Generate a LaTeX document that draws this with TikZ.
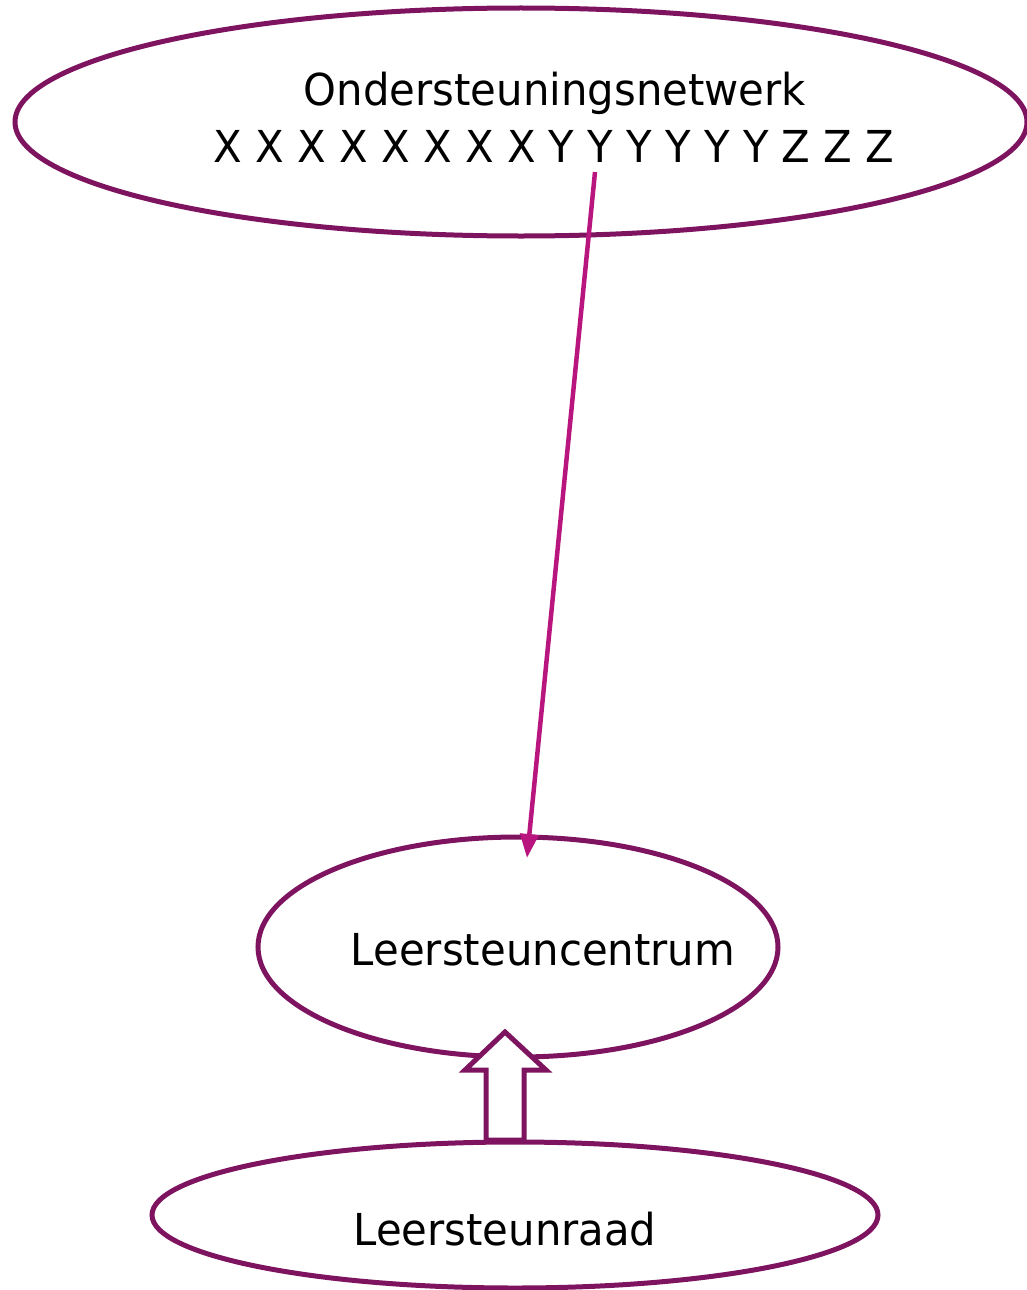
\documentclass[tikz,border=0pt]{standalone}
\usepackage{fontspec}
\setmainfont[FakeStretch=0.95]{DejaVu Sans}
\usetikzlibrary{shapes.geometric,arrows.meta}
\definecolor{plum}{HTML}{7E1460}
\definecolor{magline}{HTML}{B8157F}
\tikzset{
  oval/.style={ellipse,draw=plum,line width=5pt,inner sep=0pt},
  lbl/.style={font=\fontsize{44}{57}\selectfont,inner sep=0pt,align=center,text=black},
}
\begin{document}
\begin{tikzpicture}[x=1pt,y=-1pt]
\useasboundingbox (0,0) rectangle (1026,1290);
\node[oval,minimum width=1012pt,minimum height=228pt] (top) at (521,122) {};
\node[oval,minimum width=520pt,minimum height=220pt] (mid) at (518,947) {};
\node[oval,minimum width=726pt,minimum height=146pt] (bot) at (515,1215) {};
\node[lbl,anchor=base] (t1) at (555,105) {Ondersteuningsnetwerk};
\node[lbl,anchor=base] (t2) at (554,162) {X X X X X X X X Y Y Y Y Y Y Z Z Z};
\node[lbl,anchor=base] (t3) at (543,965) {Leersteuncentrum};
\node[lbl,anchor=base] (t4) at (505,1245) {Leersteunraad};
\coordinate (a1) at (595,172);
\coordinate (a2) at (527,858);
\draw[magline,line width=4.5pt,-{Triangle[length=24pt,width=18pt]}] (a1) -- (a2);
\draw[plum,line width=5pt,fill=white,line join=miter]
  (486,1140) -- (486,1070) -- (465,1070) -- (505,1032) -- (546,1070) -- (524,1070) -- (524,1140) -- cycle;
\end{tikzpicture}
\end{document}
